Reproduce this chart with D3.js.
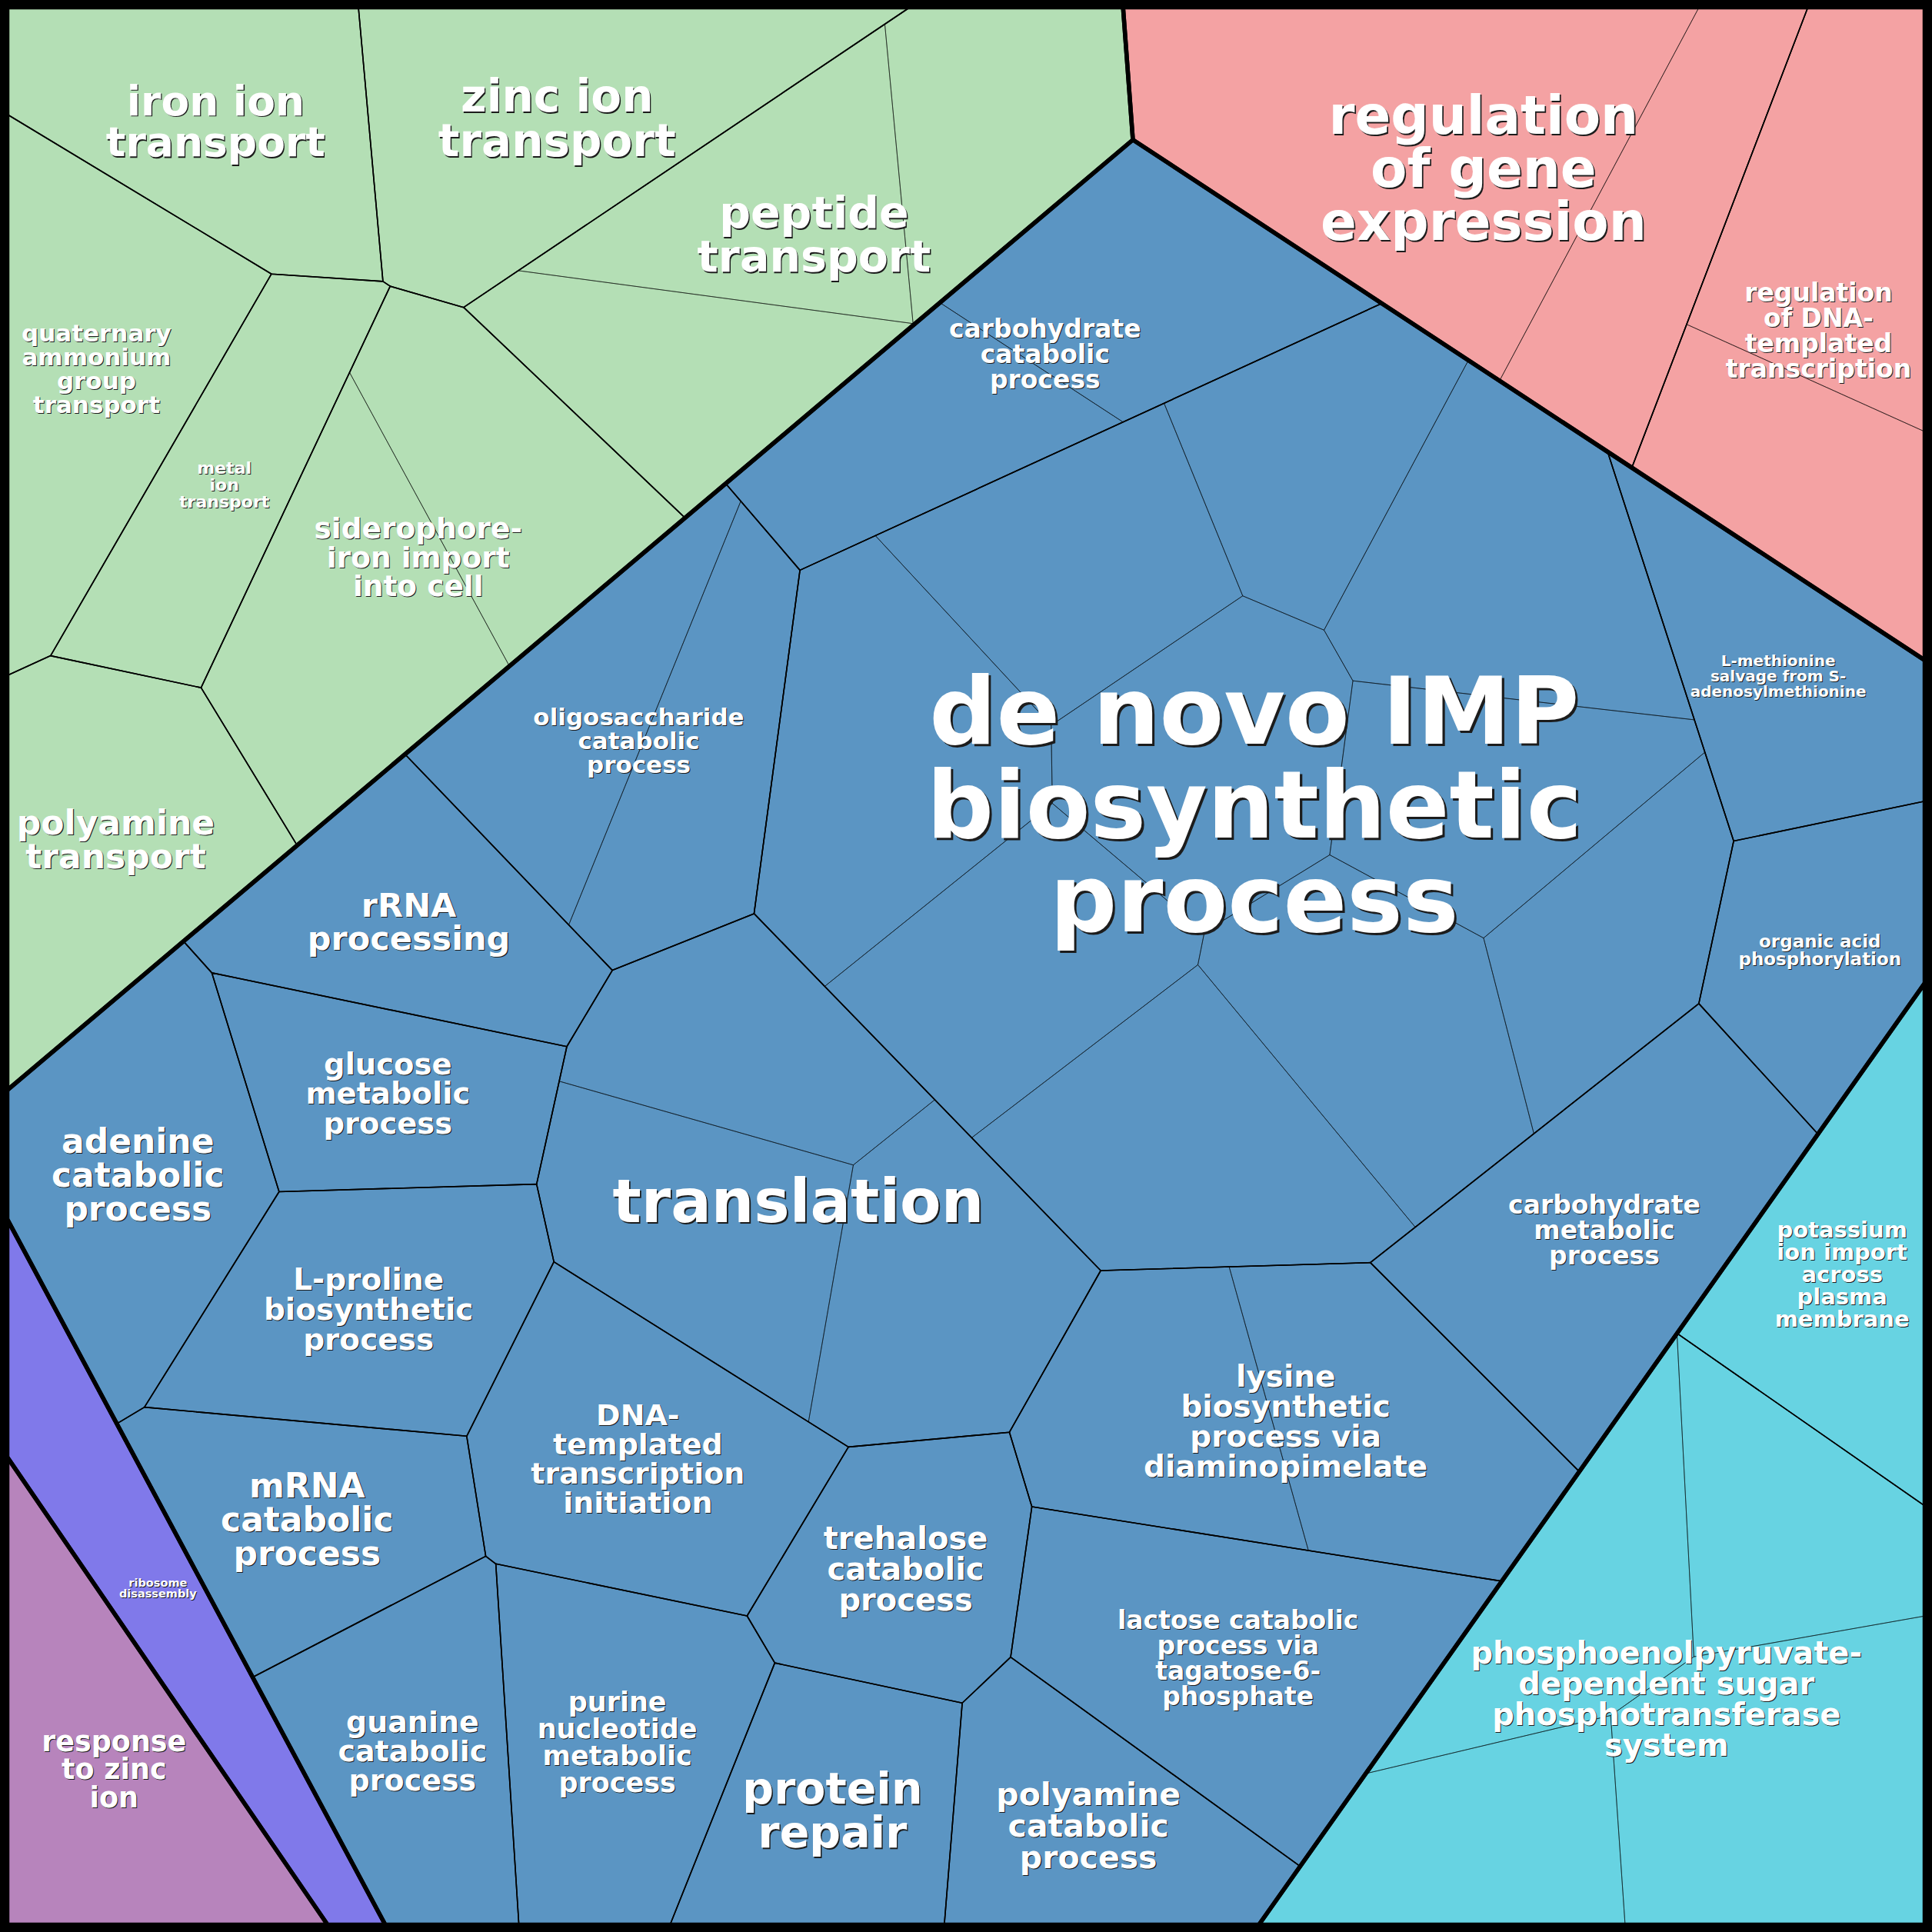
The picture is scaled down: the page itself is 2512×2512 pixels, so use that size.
<!DOCTYPE html>
<html><head><meta charset="utf-8">
<script src="https://cdn.jsdelivr.net/npm/d3@7"></script>
<style>html,body{margin:0;padding:0;background:#000}</style>
</head><body>
<svg id="chart" width="2512" height="2512"></svg>
<script>
// ---------------- DATA ----------------
// Level 1: clusters
const groupNames = ["transport", "regulation of gene expression", "de novo IMP biosynthetic process",
  "phosphoenolpyruvate-dependent sugar phosphotransferase system", "ribosome disassembly", "response to zinc ion"];
const groupColors = ["#b4dfb5", "#f4a2a3", "#5b95c3", "#67d3e2", "#8079ea", "#b784bc"];
// layout seeds of the Voronoi treemap (reference layout units 0..1568)
const groupSeeds = [[343,302],[1310,230.2],[860.2,914.6],[1394.5,1292.4],[135.3,1303],[43.9,1365.6]];

// Level 2: terms (labels)
const termNames = [
  "iron ion\ntransport", "zinc ion\ntransport", "peptide\ntransport", "quaternary\nammonium\ngroup\ntransport",
  "metal\nion\ntransport", "siderophore-\niron import\ninto cell", "polyamine\ntransport",
  "regulation\nof gene\nexpression", "regulation\nof DNA-\ntemplated\ntranscription",
  "carbohydrate\ncatabolic\nprocess", "oligosaccharide\ncatabolic\nprocess", "rRNA\nprocessing",
  "adenine\ncatabolic\nprocess", "glucose\nmetabolic\nprocess", "L-proline\nbiosynthetic\nprocess",
  "mRNA\ncatabolic\nprocess", "guanine\ncatabolic\nprocess", "purine\nnucleotide\nmetabolic\nprocess",
  "DNA-\ntemplated\ntranscription\ninitiation", "translation", "de novo IMP\nbiosynthetic\nprocess",
  "lysine\nbiosynthetic\nprocess via\ndiaminopimelate", "lactose catabolic\nprocess via\ntagatose-6-\nphosphate",
  "trehalose\ncatabolic\nprocess", "protein\nrepair", "polyamine\ncatabolic\nprocess",
  "L-methionine\nsalvage from S-\nadenosylmethionine", "organic acid\nphosphorylation", "carbohydrate\nmetabolic\nprocess",
  "potassium\nion import\nacross\nplasma\nmembrane", "phosphoenolpyruvate-\ndependent sugar\nphosphotransferase\nsystem",
  "ribosome\ndisassembly", "response\nto zinc\nion"];
const termGroup = [0,0,0,0,0,0,0, 1,1, 2,2,2,2,2,2,2,2,2,2,2,2,2,2,2,2,2,2,2,2, 3,3, 4, 5];
const termSeeds = [[214,48.5],[460.9,26.4],[590.7,219.4],[34.2,346.2],[188.2,435.3],[324.5,499.5],[152.3,604.4],
  [1205,136],[1479.3,240.9],
  [853,286],[510,580],[312,770],[106,955],[285,900],[290,1070],[275,1237],[370,1420],[495,1412],[540,1195],
  [672,985],[1019,648],[1035,1190],[1012,1335],[700,1291],[660,1478],[895,1497],[1445,510],[1495,750],[1265,960],
  [1531.8,1059.3],[1320,1363.5],[135.3,1303],[43.9,1365.6]];
const termScores = [5.35,5.8,5.7,3.1,2.2,3.75,4.4, 6.9,3.3, 3.3,3.1,4.3,4.4,3.85,3.9,4.4,3.8,3.5,3.8,7.8,12.2,
  3.9,3.3,4.0,5.7,4.1,2.0,2.3,3.3, 2.9,4.0, 1.45, 3.65];

// Level 3: leaves (term index, seed, size)
const leafTerm = [0,1,2,2,2,3,4,5,5,6, 7,7,8,8, 9,9,10,10,11,12,13,14,15,16,17,18,19,19,19,
  20,20,20,20,20,20,20,20,20,20, 21,21,22,23,24,25,26,27,28, 29,30,30,30,30, 31,32];
const leafSeeds = [[214,48.5],[460.9,26.4],[605.4,148.6],[793.9,130.8],[586.6,288.7],[34.2,346.2],[188.2,435.3],
  [267.1,488.1],[419.9,404.9],[152.3,604.4],
  [1149.5,99.9],[1336.7,199.9],[1529.5,163.2],[1435.5,371.8],
  [897.3,207.4],[785.7,378.6],[459.6,580.4],[559.6,621],[312,770],[106,955],[285,900],[290,1070],[275,1237],
  [370,1420],[495,1412],[540,1195],[610,841],[564.3,1001.4],[766.7,1036.7],
  [718,610],[882,458],[1078,378],[1235,462],[982,606],[1215,637],[1325,768],[1115,822],[975,938],[845,768],
  [940.1,1175.3],[1111.9,1127.3],[1012,1335],[700,1291],[660,1478],[895,1497],[1445,510],[1495,750],[1265,960],
  [1531.8,1059.3],[1259.6,1255.6],[1378.3,1249.4],[1419.3,1481.8],[1315,1489],
  [135.3,1303],[43.9,1365.6]];
const leafValues = [50250,61760,38507,35212,35906,52920,37939,47747,39893,50779,
  86214,38564,45548,35287,
  41158,32229,35781,35959,42813,52748,35625,48666,40731,41721,48950,54342,35070,42784,43258,
  55004,41284,36274,52280,44413,39788,33357,46249,50658,42517,
  38104,45234,65015,36850,37636,39463,40955,33877,64052,
  42713,38798,33867,56024,35439,
  38555,49400];

// ---------------- LAYOUT (power-diagram Voronoi treemap) ----------------
const x = d3.scaleLinear().domain([5,1563]).range([9.5,2502.5]);
const y = d3.scaleLinear().domain([5,1563]).range([9.5,2502.5]);
const fontScale = d3.scaleLinear().domain([0,10]).range([0,100]);

function clip(poly, ax, ay, b, label) {
  const out = [], n = poly.length;
  for (let k = 0; k < n; k++) {
    const P = poly[k], Q = poly[(k+1)%n];
    const fp = ax*P.x + ay*P.y - b, fq = ax*Q.x + ay*Q.y - b;
    const pin = fp <= 0, qin = fq <= 0;
    if (pin) out.push({x:P.x, y:P.y, e:P.e});
    if (pin !== qin) {
      const t = fp/(fp-fq);
      out.push({x:P.x + t*(Q.x-P.x), y:P.y + t*(Q.y-P.y), e: pin ? label : P.e});
    }
  }
  return out;
}
function polyArea(p) {
  let s = 0;
  for (let k = 0; k < p.length; k++) { const a = p[k], b = p[(k+1)%p.length]; s += a.x*b.y - b.x*a.y; }
  return Math.abs(s)/2;
}
function powerCells(base, S, Wt) {
  const n = S.length, cells = [];
  for (let i = 0; i < n; i++) {
    let poly = base.map(p => ({x:p.x, y:p.y, e:-1}));
    for (let j = 0; j < n && poly.length; j++) {
      if (j === i) continue;
      const ax = 2*(S[j][0]-S[i][0]), ay = 2*(S[j][1]-S[i][1]);
      const b = (S[j][0]**2 + S[j][1]**2) - (S[i][0]**2 + S[i][1]**2) + Wt[i] - Wt[j];
      poly = clip(poly, ax, ay, b, j);
    }
    cells.push(poly);
  }
  return cells;
}
function evalCells(base, S, Wt, T) {
  const cells = powerCells(base, S, Wt);
  const A = cells.map(c => c.length > 2 ? polyArea(c) : 0);
  let err = 0; A.forEach((a,i) => err += Math.abs(T[i]-a));
  return {cells, A, err};
}
function linSolve(M, r) {
  const n = r.length, A = M.map((row,i) => row.concat([r[i]]));
  for (let c = 0; c < n; c++) {
    let p = c; for (let i = c+1; i < n; i++) if (Math.abs(A[i][c]) > Math.abs(A[p][c])) p = i;
    [A[c], A[p]] = [A[p], A[c]];
    const piv = A[c][c] || 1e-12;
    for (let i = c+1; i < n; i++) { const f = A[i][c]/piv; for (let k = c; k <= n; k++) A[i][k] -= f*A[c][k]; }
  }
  const xs = new Array(n).fill(0);
  for (let i = n-1; i >= 0; i--) { let s = A[i][n]; for (let k = i+1; k < n; k++) s -= A[i][k]*xs[k]; xs[i] = s/(A[i][i] || 1e-12); }
  return xs;
}
function solve(base, S, T) {
  const n = S.length;
  if (n === 1) return [base.map(p => ({x:p.x, y:p.y, e:-1}))];
  let Wt = new Array(n).fill(0);
  let cur = evalCells(base, S, Wt, T);
  const total = d3.sum(T);
  for (let it = 0; it < 80; it++) {
    if (cur.A.some(a => a <= 0)) {
      cur.A.forEach((a,i) => {
        if (a > 0) return;
        let m = -Infinity;
        for (let j = 0; j < n; j++) if (j !== i) m = Math.max(m, Wt[j] - ((S[i][0]-S[j][0])**2 + (S[i][1]-S[j][1])**2));
        Wt[i] = m + 1;
      });
      cur = evalCells(base, S, Wt, T);
      continue;
    }
    const J = Array.from({length:n}, () => new Array(n).fill(0));
    cur.cells.forEach((c,i) => {
      for (let k = 0; k < c.length; k++) {
        const P = c[k], Q = c[(k+1)%c.length];
        if (P.e < 0) continue;
        const j = P.e, L = Math.hypot(Q.x-P.x, Q.y-P.y);
        const dd = 2*Math.hypot(S[j][0]-S[i][0], S[j][1]-S[i][1]);
        J[i][i] += L/dd; J[i][j] -= L/dd;
      }
    });
    let md = 0; for (let i = 0; i < n; i++) md = Math.max(md, J[i][i]);
    for (let i = 0; i < n; i++) J[i][i] += 1e-7*md;
    const r = T.map((t,i) => t - cur.A[i]);
    const dW = linSolve(J, r);
    let s = 1, accepted = false;
    for (let tries = 0; tries < 10; tries++) {
      const Wn = Wt.map((w,i) => w + s*dW[i]);
      const nx = evalCells(base, S, Wn, T);
      if (nx.A.every(a => a > 0) && nx.err < cur.err) { Wt = Wn; cur = nx; accepted = true; break; }
      s /= 2;
    }
    if (!accepted || cur.err < 1e-7*total) break;
  }
  return cur.cells;
}

const square = [{x:5,y:5},{x:1563,y:5},{x:1563,y:1563},{x:5,y:1563}];
const termValue = termNames.map((_,t) => d3.sum(leafValues.filter((v,i) => leafTerm[i] === t)));
const groupValue = groupNames.map((_,g) => d3.sum(termValue.filter((v,t) => termGroup[t] === g)));
const totalValue = d3.sum(groupValue);
const sqArea = polyArea(square);

const groupCells = solve(square, groupSeeds, groupValue.map(v => v/totalValue*sqArea));
const termCells = new Array(termNames.length);
groupNames.forEach((_,g) => {
  const idx = termNames.map((_,t) => t).filter(t => termGroup[t] === g);
  const base = groupCells[g], area = polyArea(base);
  const cells = solve(base, idx.map(t => termSeeds[t]), idx.map(t => termValue[t]/groupValue[g]*area));
  idx.forEach((t,k) => termCells[t] = cells[k]);
});
const leafCells = new Array(leafValues.length);
termNames.forEach((_,t) => {
  const idx = leafValues.map((_,i) => i).filter(i => leafTerm[i] === t);
  const base = termCells[t], area = polyArea(base);
  const cells = solve(base, idx.map(i => leafSeeds[i]), idx.map(i => leafValues[i]/termValue[t]*area));
  idx.forEach((i,k) => leafCells[i] = cells[k]);
});

// ---------------- DRAW ----------------
const svg = d3.select("#chart");
svg.append("rect").attr("width",2512).attr("height",2512).attr("fill","#000");
const pathOf = c => "M" + c.map(p => x(p.x).toFixed(2) + "," + y(p.y).toFixed(2)).join("L") + "Z";

svg.append("g").selectAll("path").data(leafCells).join("path")
  .attr("d", pathOf)
  .attr("fill", (c,i) => groupColors[termGroup[leafTerm[i]]])
  .attr("stroke", (c,i) => groupColors[termGroup[leafTerm[i]]])
  .attr("stroke-width", 0.6);
// level 3 borders
svg.append("g").selectAll("path").data(leafCells.filter((c,i) => leafTerm.filter(t => t === leafTerm[i]).length > 1)).join("path")
  .attr("d", pathOf).attr("fill","none").attr("stroke","#000").attr("stroke-opacity",0.5).attr("stroke-width",1);
// level 2 borders
svg.append("g").selectAll("path").data(termCells).join("path")
  .attr("d", pathOf).attr("fill","none").attr("stroke","#000").attr("stroke-width",1.6).attr("stroke-linejoin","round");
// level 1 borders
svg.append("g").selectAll("path").data(groupCells).join("path")
  .attr("d", pathOf).attr("fill","none").attr("stroke","#000").attr("stroke-width",5.5).attr("stroke-linejoin","round");

// labels (centred on each cell's centroid): dark shadow copy, then white text
const lbl = svg.append("g").attr("font-family","'DejaVu Sans', sans-serif").attr("font-weight","bold").attr("text-anchor","middle");
termNames.forEach((name,t) => {
  const c = d3.polygonCentroid(termCells[t].map(p => [p.x, p.y]));
  const fs = fontScale(termScores[t]);
  const lines = name.split("\n");
  const lh = fs*1.0, cx = x(c[0]), cy = y(c[1]);
  const off = Math.max(1, fs*0.025);
  [["#1c1c1c", off], ["#ffffff", 0]].forEach(([col,o]) => {
    const txt = lbl.append("text").attr("font-size", fs).attr("fill", col);
    lines.forEach((ln,k) => txt.append("tspan").attr("x", cx+o)
      .attr("y", cy + o + (k-(lines.length-1)/2)*lh + 0.36*fs).text(ln));
  });
});
</script>
</body></html>
